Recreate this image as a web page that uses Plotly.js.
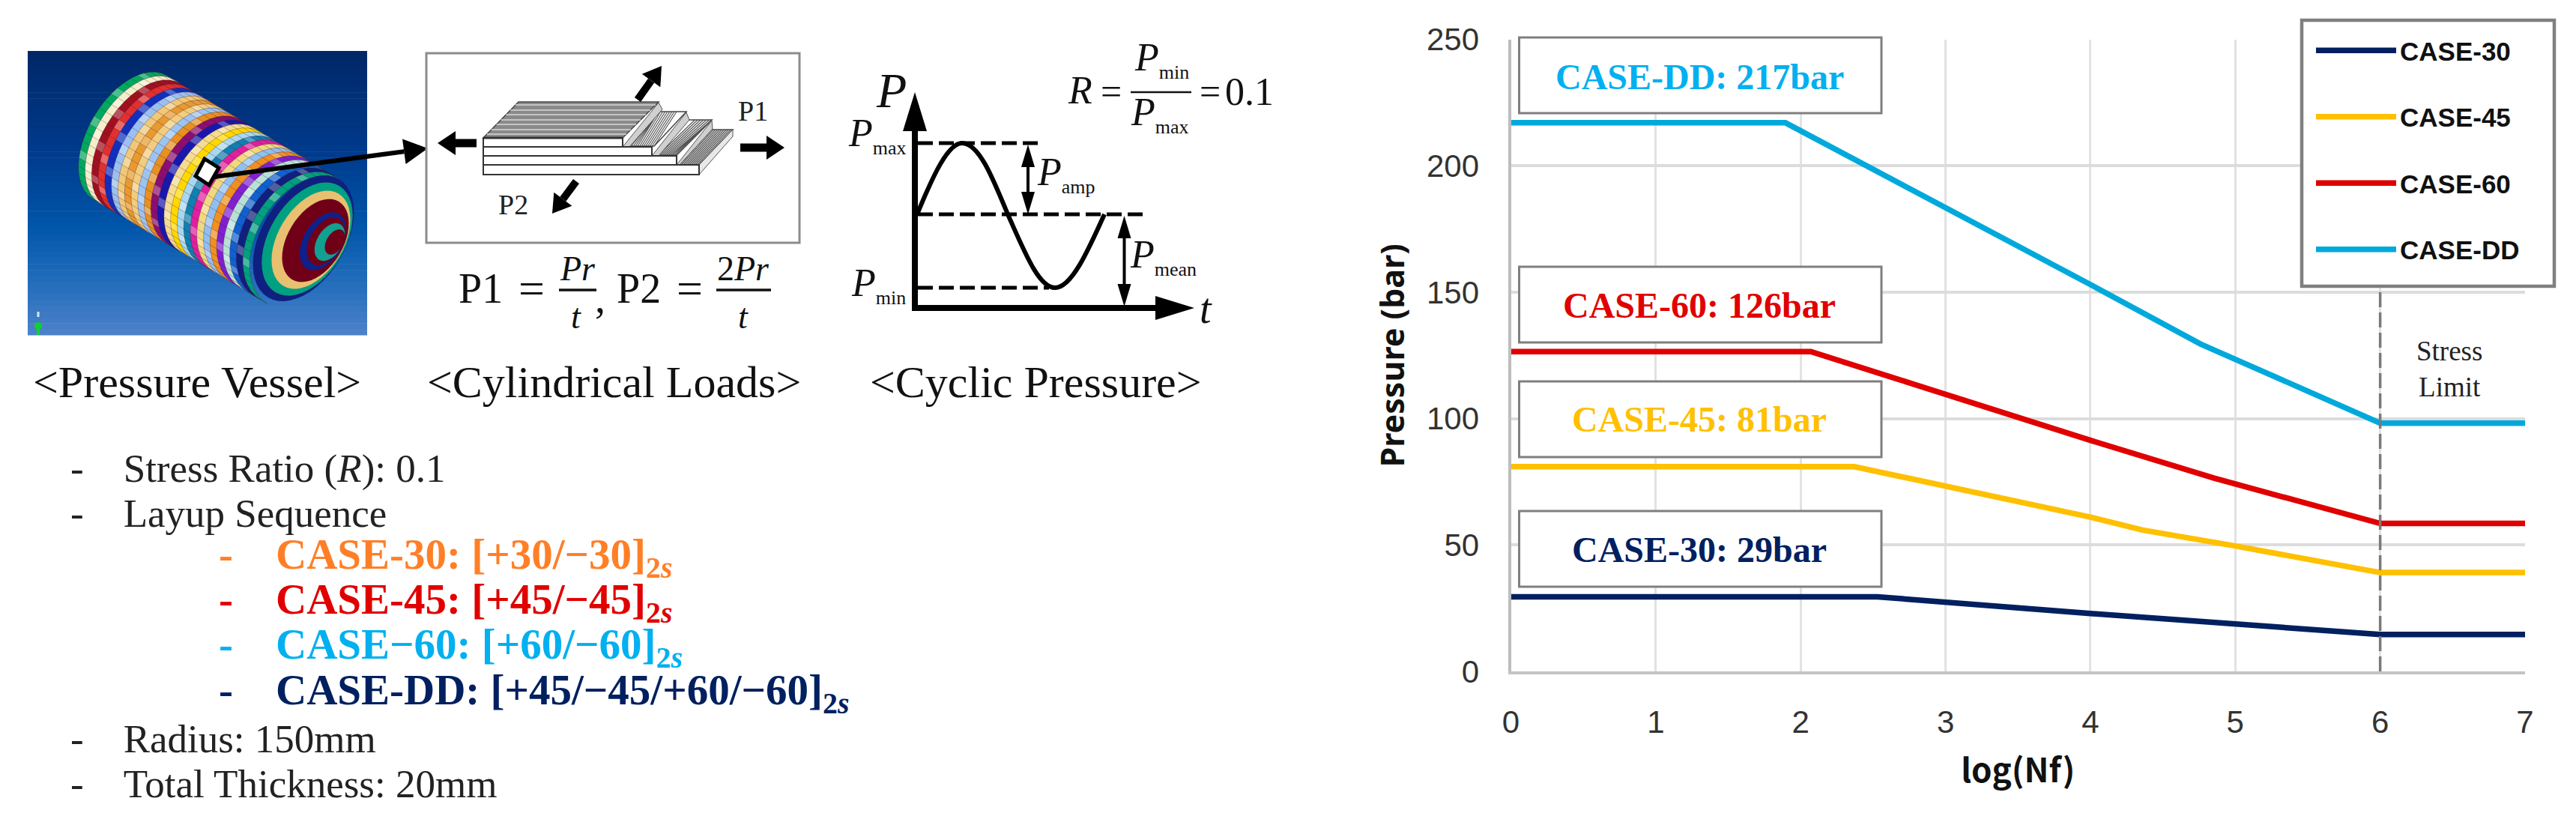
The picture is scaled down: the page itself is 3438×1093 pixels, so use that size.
<!DOCTYPE html>
<html><head><meta charset="utf-8">
<script src="https://cdn.plot.ly/plotly-3.0.1.min.js"></script>
<style>html,body{margin:0;padding:0;background:#fff;overflow:hidden}#c{width:3438px;height:1093px}</style>
</head><body><div id="c"></div>
<script>
// ---------- chart data ----------
const xCase30 = [0, 2.53, 4, 5, 6, 7];
const yCase30 = [29.5, 29.5, 22.9, 18.5, 14.6, 14.6];
const xCase45 = [0, 2.37, 4, 4.36, 5, 6, 7];
const yCase45 = [81, 81, 61, 55.9, 49.6, 39.1, 39.1];
const xCase60 = [0, 2.07, 4, 4.85, 6, 7];
const yCase60 = [126.5, 126.5, 91.4, 76.5, 58.5, 58.5];
const xCaseDD = [0, 1.895, 4, 4.76, 6, 7];
const yCaseDD = [217, 217, 153, 129.5, 98.2, 98.2];
const seriesNames = ['CASE-30', 'CASE-45', 'CASE-60', 'CASE-DD'];
const seriesColors = ['#002060', '#ffc000', '#e00000', '#00a9dc'];
const xTickValues = [0, 1, 2, 3, 4, 5, 6, 7];
const yTickValues = [0, 50, 100, 150, 200, 250];
const calloutTexts = ['CASE-DD: 217bar', 'CASE-60: 126bar', 'CASE-45: 81bar', 'CASE-30: 29bar'];
const calloutColors = ['#00b0f0', '#e00000', '#ffc000', '#002060'];
const fatigueLimit = 6;

// ---------- page helpers (paper fractions from page pixels) ----------
const W = 3438, H = 1093;
const X = v => v / W, Y = v => 1 - v / H;
const SERIF = '"Liberation Serif", serif', SANS = '"Liberation Sans", Arial, sans-serif';
const NB = '\u00A0\u00A0\u00A0\u00A0';
const shapes = [], annos = [];
const pth = (pts, close = true) => pts.map((p, i) => (i ? 'L' : 'M') + X(p[0]) + ',' + Y(p[1])).join(' ') + (close ? ' Z' : '');
function poly(pts, fill, line, lw, extra) {
  shapes.push(Object.assign({type: 'path', xref: 'paper', yref: 'paper', path: pth(pts), fillcolor: fill,
    line: {color: line || 'rgba(0,0,0,0)', width: lw || 0}, layer: 'above'}, extra || {}));
}
function rawPath(d, fill, line, lw, extra) {
  shapes.push(Object.assign({type: 'path', xref: 'paper', yref: 'paper', path: d, fillcolor: fill,
    line: {color: line || 'rgba(0,0,0,0)', width: lw || 0}, layer: 'above'}, extra || {}));
}
function seg(x0, y0, x1, y1, color, width, dash) {
  shapes.push({type: 'line', xref: 'paper', yref: 'paper', x0: X(x0), y0: Y(y0), x1: X(x1), y1: Y(y1),
    line: {color, width, dash: dash || 'solid'}, layer: 'above'});
}
function box(x0, y0, x1, y1, fill, line, lw) {
  shapes.push({type: 'rect', xref: 'paper', yref: 'paper', x0: X(x0), y0: Y(y0), x1: X(x1), y1: Y(y1),
    fillcolor: fill, line: {color: line || 'rgba(0,0,0,0)', width: lw || 0}, layer: 'above'});
}
function arrow(x0, y0, x1, y1, w, hl, hw, both) {
  const L = Math.hypot(x1 - x0, y1 - y0), dx = (x1 - x0) / L, dy = (y1 - y0) / L, nx = -dy, ny = dx;
  const bx = x1 - dx * hl, by = y1 - dy * hl;
  const sx = both ? x0 + dx * hl : x0, sy = both ? y0 + dy * hl : y0;
  poly([[sx + nx * w / 2, sy + ny * w / 2], [bx + nx * w / 2, by + ny * w / 2], [bx - nx * w / 2, by - ny * w / 2], [sx - nx * w / 2, sy - ny * w / 2]], '#000');
  poly([[x1, y1], [bx + nx * hw, by + ny * hw], [bx - nx * hw, by - ny * hw]], '#000');
  if (both) poly([[x0, y0], [sx + nx * hw, sy + ny * hw], [sx - nx * hw, sy - ny * hw]], '#000');
}
function T(text, x, y, size, o) {
  o = o || {};
  annos.push({xref: 'paper', yref: 'paper', x: X(x), y: Y(y), text, showarrow: false,
    xanchor: o.anchor || 'center', yanchor: 'middle',
    font: {family: o.family || SERIF, size, color: o.color || '#111', weight: o.weight}});
}

// ---------- vessel picture ----------
(function vessel() {
  const top = 68, bot = 447, stops = 48, step = (bot - top) / stops;
  const mix = f => {
    const key = [[0, 0, 40, 104], [.35, 0, 58, 140], [.62, 0, 86, 170], [.85, 40, 112, 190], [1, 76, 128, 200]];
    let k = 0; while (k < key.length - 2 && f > key[k + 1][0]) k++;
    const a = key[k], b = key[k + 1], t = (f - a[0]) / (b[0] - a[0]);
    return 'rgb(' + [1, 2, 3].map(j => Math.round(a[j] + (b[j] - a[j]) * t)).join(',') + ')';
  };
  for (let i = 0; i < stops; i++) box(37, top + i * step, 490, top + (i + 1) * step + 0.6, mix(i / (stops - 1)));
  const ca = Math.cos(31 * Math.PI / 180), sa = Math.sin(31 * Math.PI / 180);
  const d = [ca, sa], n = [-sa, ca], C = [173, 183], R = 96;
  const P = (u, th) => {
    const a = 55 + u * 0.03;
    return [C[0] + d[0] * (u - a * Math.cos(th)) + n[0] * R * Math.sin(th), C[1] + d[1] * (u - a * Math.cos(th)) + n[1] * R * Math.sin(th)];
  };
  const bands = ['#00a860', '#f5eecb', '#a01020', '#e03030', '#1030c0', '#9ac0f0', '#f0c878', '#e89a30', '#f2cd80', '#9cc4f0', '#e89020',
    '#8a0f70', '#1818b0', '#f4dc90', '#ffd800', '#a8d8f0', '#1080b0', '#e020a0', '#f0d880', '#90c0f0', '#f09020', '#8020d0', '#b8e0d8', '#1060d0', '#102080', '#00a080'];
  const N = bands.length, du = 272 / N, TH = [];
  for (let k = 0; k <= 24; k++) TH.push(-Math.PI / 2 + Math.PI * k / 24);
  bands.forEach((c, i) => {
    const a = TH.map(t => P(i * du, t)), b = TH.map(t => P((i + 1) * du + 0.5, t)).reverse();
    poly(a.concat(b), c);
  });
  let light = '', grid = '';
  for (let i = 0; i < N; i++) for (let k = 0; k < 24; k++) {
    if ((i * 7 + k * 5) % 4 === 0 && k > 3 && k < 20) {
      light += pth([P(i * du, TH[k]), P((i + 1) * du, TH[k]), P((i + 1) * du, TH[k + 1]), P(i * du, TH[k + 1])]) + ' ';
    }
  }
  rawPath(light, 'rgba(255,255,255,0.28)');
  TH.forEach(t => { grid += pth([P(0, t), P(N * du, t)], false) + ' '; });
  for (let i = 0; i <= N; i++) grid += pth(TH.map(t => P(i * du, t)), false) + ' ';
  rawPath(grid, 'rgba(0,0,0,0)', 'rgba(70,20,30,0.30)', 1);
  // end dome: nested rings
  const rings = [['#102080', 1, 405, 318], ['#00a080', .90, 410, 319], ['#e8c070', .78, 415, 320], ['#700018', .66, 421, 321],
    ['#10208a', .46, 431, 322], ['#700018', .38, 435, 322], ['#12a090', .30, 440, 323], ['#700018', .20, 447, 323]];
  rings.forEach(r => {
    const pts = [];
    for (let k = 0; k < 48; k++) {
      const t = 2 * Math.PI * k / 48;
      pts.push([r[2] + d[0] * 56 * r[1] * Math.cos(t) + n[0] * 92 * r[1] * Math.sin(t), r[3] + d[1] * 56 * r[1] * Math.cos(t) + n[1] * 92 * r[1] * Math.sin(t)]);
    }
    poly(pts, r[0]);
  });
  seg(51, 436, 51, 447, '#10d030', 4);
  shapes.push({type: 'circle', xref: 'paper', yref: 'paper', x0: X(46), x1: X(56), y0: Y(430), y1: Y(440), fillcolor: '#10d030', line: {width: 0}, layer: 'above'});
  seg(51, 416, 51, 423, '#d8e8f0', 3);
  poly([[273, 212], [292, 224], [279, 247], [261, 235]], '#fff', '#000', 5);
  arrow(286, 236, 571, 198, 6, 32, 17);
})();

// ---------- cylindrical loads ----------
(function loads() {
  box(569, 71, 1067, 324, '#fff', '#8c8c8c', 3);
  const tl = [[645, 184], [831, 184], [879, 136], [692, 136]];
  poly(tl, '#8a8a8a', '#444', 1.5);
  let s = '';
  [140, 147, 153, 160, 166, 173, 179].forEach(y => {
    const f = (184 - y) / 48;
    s += pth([[645 + 47 * f, y], [831 + 48 * f, y]], false) + ' ';
  });
  rawPath(s, 'rgba(0,0,0,0)', '#d8d8d8', 1.6);
  const hatch = (BL, BR, TR, TL, count, shift, color) => {
    poly([BL, BR, TR, TL], '#fff', '#444', 1.5);
    let h = '';
    for (let i = 0; i <= count; i++) {
      const f = i / count;
      const a = [BL[0] + (BR[0] - BL[0]) * f, BL[1]];
      const g = Math.min(1, Math.max(0, f + shift));
      const b = [TL[0] + (TR[0] - TL[0]) * g, TL[1]];
      h += pth([a, b], false) + ' ';
    }
    rawPath(h, 'rgba(0,0,0,0)', color || '#555', 1.2);
  };
  hatch([840, 195], [873, 195], [916, 149], [879, 149], 12, -0.35);
  hatch([879, 207], [903, 207], [950, 160], [915, 160], 9, 0.35);
  hatch([907, 220], [933, 220], [978, 173], [949, 173], 10, 0);
  poly([[831, 196], [840, 196], [884, 146], [879, 137]], '#d0d0d0', '#555', 1);
  poly([[870, 208], [879, 208], [920, 160], [916, 150]], '#d0d0d0', '#555', 1);
  poly([[903, 220], [907, 220], [951, 172], [950, 161]], '#d0d0d0', '#555', 1);
  poly([[933, 233], [978, 182], [978, 173], [933, 220]], '#e8e8e8', '#555', 1);
  [[831, 184, 196], [870, 196, 208], [903, 208, 220], [933, 220, 233]].forEach(r => box(645, r[1], r[0], r[2], '#fff', '#333', 2));
  seg(645, 184, 831, 184, '#333', 3);
  arrow(636, 191, 584, 191, 11, 24, 16);
  arrow(988, 197, 1047, 197, 11, 24, 16);
  arrow(851, 133, 883, 88, 10, 24, 15);
  arrow(769, 242, 737, 285, 10, 24, 15);
  T('P1', 1005, 148, 38, {color: '#222'});
  T('P2', 685, 273, 38, {color: '#222'});
  T('P1', 641, 385, 56); T('=', 709, 385, 62);
  T('<i>Pr</i>', 771, 358, 46); seg(746, 387, 796, 387, '#111', 3.5); T('<i>t</i>', 769, 422, 46);
  T(',', 801, 398, 56);
  T('P2', 852, 385, 56); T('=', 920, 385, 62);
  T('2<i>Pr</i>', 992, 358, 46); seg(956, 387, 1029, 387, '#111', 3.5); T('<i>t</i>', 992, 422, 46);
})();

// ---------- cyclic pressure ----------
(function cyclic() {
  seg(1225, 191, 1393, 191, '#000', 5, '20px,8px');
  seg(1225, 286, 1525, 286, '#000', 5, '20px,8px');
  seg(1225, 384, 1400, 384, '#000', 5, '20px,8px');
  const c = (a, b, e) => 'C' + X(a[0]) + ',' + Y(a[1]) + ' ' + X(b[0]) + ',' + Y(b[1]) + ' ' + X(e[0]) + ',' + Y(e[1]) + ' ';
  const wave = 'M' + X(1224) + ',' + Y(286) +
    c([1245, 235], [1265, 191], [1284, 191]) + c([1306, 191], [1324, 235], [1345, 286]) +
    c([1367, 335], [1386, 384], [1408, 384]) + c([1430, 384], [1452, 335], [1474, 286]);
  rawPath(wave, 'rgba(0,0,0,0)', '#000', 6);
  arrow(1221, 415, 1221, 123, 8, 52, 16);
  arrow(1217, 411, 1594, 411, 8, 52, 16);
  arrow(1372, 193, 1372, 286, 4, 30, 9, true);
  arrow(1500.5, 288, 1500.5, 409, 4, 30, 9, true);
  const S = (sub, x, y) => T('<i>P</i><sub><span style="font-size:26px">' + sub + '</span></sub>', x, y, 52, {anchor: 'left'});
  T('<i>P</i>', 1189, 120, 66);
  S('max', 1130, 180); S('min', 1134, 380);
  S('amp', 1382, 232); S('mean', 1506, 342);
  T('<i>t</i>', 1609, 412, 56);
  T('<i>R</i>', 1441, 120, 52); T('=', 1483, 122, 50); seg(1509, 123, 1590, 123, '#111', 2.5);
  S('min', 1512, 79); S('max', 1507, 152);
  T('=', 1615, 122, 50); T('0.1', 1667, 122, 52);
})();

// ---------- captions and parameter list ----------
T('&lt;Pressure Vessel&gt;', 263, 510, 60);
T('&lt;Cylindrical Loads&gt;', 819, 510, 60);
T('&lt;Cyclic Pressure&gt;', 1382, 510, 60);
const rows = [
  [625, 'Stress Ratio (<i>R</i>): 0.1', '#222', 0],
  [685, 'Layup Sequence', '#222', 0],
  [744, 'CASE-30: [+30/−30]<sub>2<i>s</i></sub>', '#ff7f27', 1],
  [804, 'CASE-45: [+45/−45]<sub>2<i>s</i></sub>', '#e00000', 1],
  [864, 'CASE−60: [+60/−60]<sub>2<i>s</i></sub>', '#00b0f0', 1],
  [925, 'CASE-DD: [+45/−45/+60/−60]<sub>2<i>s</i></sub>', '#002060', 1],
  [986, 'Radius: 150mm', '#222', 0],
  [1046, 'Total Thickness: 20mm', '#222', 0]
];
rows.forEach(r => {
  const body = '-' + NB + r[1];
  T(r[3] ? '<b>' + body + '</b>' : body, r[3] ? 290 : 92, r[0], r[3] ? 57 : 53, {anchor: 'left', color: r[2]});
});

// ---------- chart callouts, legend frame, limit line ----------
const calloutBoxes = [[50, 151, 102], [356, 457, 407], [509, 610, 559], [682, 783, 733]];
calloutBoxes.forEach((b, i) => {
  box(2027.5, b[0], 2511, b[1], '#fff', '#7f7f7f', 3);
  T('<b>' + calloutTexts[i] + '</b>', 2268, b[2], 48, {color: calloutColors[i]});
});
shapes.push({type: 'line', xref: 'x', yref: 'y', x0: fatigueLimit, x1: fatigueLimit, y0: 0, y1: 150,
  line: {color: '#7a7a7a', width: 3.5, dash: '20px,7px'}, layer: 'above'});
box(3072, 27, 3409, 382, '#fff', '#7f7f7f', 4.5);
T('Stress<br>Limit', 3269, 493, 37, {color: '#222'});

// ---------- traces ----------
const xs = [xCase30, xCase45, xCase60, xCaseDD], ys = [yCase30, yCase45, yCase60, yCaseDD];
const traces = seriesNames.map((name, i) => ({
  type: 'scatter', mode: 'lines', name, x: xs[i], y: ys[i], legendgroup: name,
  line: {color: seriesColors[i], width: 7.5}, cliponaxis: false
}));

const layout = {
  width: W, height: H, autosize: false, paper_bgcolor: '#fff', plot_bgcolor: '#fff',
  margin: {l: 0, r: 0, t: 0, b: 0, pad: 0}, showlegend: true, font: {family: SANS},
  xaxis: {domain: [2016.5 / W, 3370 / W], range: [0, 7], tickvals: xTickValues, ticks: '', showgrid: true,
    gridcolor: '#e2e2e2', gridwidth: 3, showline: true, linecolor: '#c4c4c4', linewidth: 4, zeroline: false,
    ticklabelstandoff: 28, tickfont: {family: SANS, size: 42, color: '#333'},
    title: {text: 'log(Nf)', standoff: 28, font: {family: '"Noto Sans CJK KR", "Noto Sans", sans-serif', size: 44, color: '#111', weight: 700}}},
  yaxis: {domain: [1 - 896 / H, 1 - 52.5 / H], range: [0, 250], tickvals: yTickValues, ticks: '', showgrid: true,
    gridcolor: '#dcdcdc', gridwidth: 3.5, showline: true, linecolor: '#bdbdbd', linewidth: 4, zeroline: false,
    ticklabelstandoff: 30, tickfont: {family: SANS, size: 42, color: '#333'},
    title: {text: 'Pressure (bar)', standoff: 17, font: {family: '"Noto Sans", sans-serif', size: 43, color: '#111', weight: 700}}},
  legend: {x: 3086 / W, y: 1 - 38 / H, xanchor: 'left', yanchor: 'top', bgcolor: 'rgba(0,0,0,0)', borderwidth: 0,
    itemwidth: 107, tracegroupgap: 40, traceorder: 'grouped', font: {family: SANS, size: 35, color: '#111', weight: 700}},
  shapes, annotations: annos
};
Plotly.newPlot('c', traces, layout, {displayModeBar: false, responsive: false});
</script></body></html>
